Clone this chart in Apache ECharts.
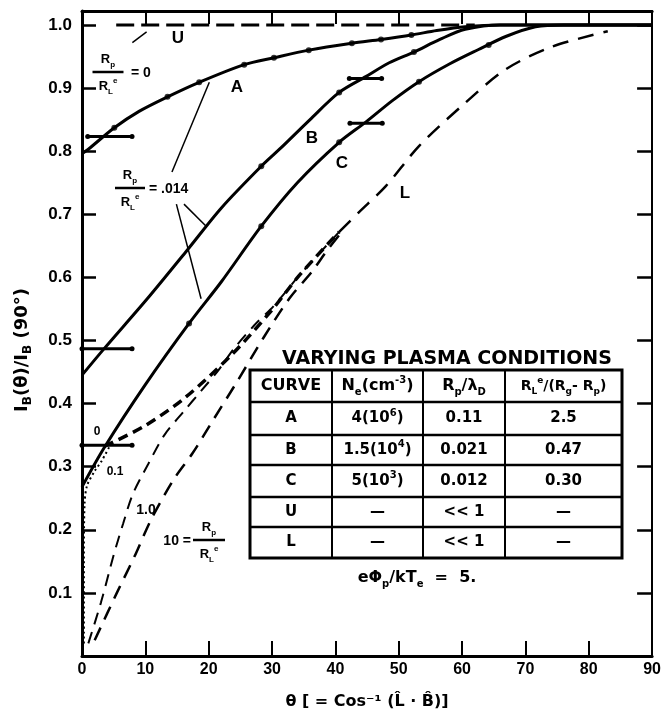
<!DOCTYPE html>
<html>
<head>
<meta charset="utf-8">
<script src="https://cdn.jsdelivr.net/npm/echarts@6/dist/echarts.min.js"></script>
<style>
html, body { margin: 0; padding: 0; background: #fff; }
#main { width: 664px; height: 715px; }
</style>
</head>
<body>
<div id="main"></div>
<script>
// axis ticks
var xTicks = [0, 10, 20, 30, 40, 50, 60, 70, 80, 90];
var yTicks = [0.1, 0.2, 0.3, 0.4, 0.5, 0.6, 0.7, 0.8, 0.9, 1.0];

// main curves, [theta, IB ratio]
var curveA = [[0, 0.796], [1, 0.803], [5.1, 0.837], [9, 0.863], [13.5, 0.886], [18.5, 0.909], [25.6, 0.937],
  [30.3, 0.948], [35.8, 0.96], [42.6, 0.971], [47.2, 0.977], [52, 0.984], [56, 0.991], [60.5, 0.997], [66, 1.0], [90, 1.0]];
var curveB = [[0, 0.445], [3.5, 0.487], [10.3, 0.566], [16.6, 0.643], [22, 0.71], [28.3, 0.776], [31.4, 0.805],
  [36, 0.85], [40.6, 0.893], [44.8, 0.918], [48.5, 0.94], [52.4, 0.957], [56.5, 0.977], [60.5, 0.993], [66, 1.0], [90, 1.0]];
var curveC = [[0, 0.268], [3.5, 0.33], [10, 0.43], [16.9, 0.527], [22, 0.593], [28.3, 0.681], [34, 0.75],
  [40.6, 0.814], [44.8, 0.846], [49, 0.88], [53.2, 0.91], [58, 0.938], [62.6, 0.961], [67, 0.982], [71.6, 0.997], [76, 1.0], [90, 1.0]];
var curveU = [[5.4, 1.0], [62, 1.0]];
var curveL = [[40.6, 0.672], [43.7, 0.703], [48, 0.745], [53.2, 0.808], [59.9, 0.871], [66.8, 0.929], [74.1, 0.965], [83, 0.99]];

// Rp/RL family near small angles
var rp0 = [[3.5, 0.332], [9.8, 0.364], [16.1, 0.408], [23.5, 0.476], [29.8, 0.546], [34.3, 0.603], [40.6, 0.672]];
var rp01 = [[0.3, 0.02], [0.3, 0.15], [0.4, 0.24], [0.8, 0.27], [2, 0.293], [3.1, 0.309], [4.5, 0.335]];
var rp1 = [[1, 0.02], [3, 0.085], [5, 0.16], [6.5, 0.21], [8, 0.256], [10.5, 0.305], [13, 0.35], [16.1, 0.388],
  [18.8, 0.42], [21.4, 0.451], [24, 0.487], [27.2, 0.524], [30.3, 0.555], [34.3, 0.603], [40.6, 0.672]];
var rp10 = [[2, 0.025], [5.5, 0.1], [8.3, 0.158], [11, 0.218], [14.5, 0.28], [17.5, 0.322], [20.9, 0.377],
  [24.5, 0.435], [28.7, 0.505], [32.7, 0.566], [36.3, 0.609], [38.5, 0.64], [41, 0.672]];

// measured points on the curves
var dotsA = [[5.1, 0.837], [13.5, 0.886], [18.5, 0.909], [25.6, 0.937], [30.3, 0.948], [35.8, 0.96], [42.6, 0.971], [47.2, 0.977], [52, 0.984]];
var dotsB = [[28.3, 0.776], [40.6, 0.893], [52.4, 0.957]];
var dotsC = [[16.9, 0.527], [28.3, 0.681], [40.6, 0.814], [53.2, 0.91], [64.2, 0.968]];

// error bars: [x1, x2, y]
var errBars = [[0.9, 7.9, 0.823], [0, 7.9, 0.487], [0, 7.9, 0.334], [42.2, 47.3, 0.915], [42.3, 47.4, 0.844]];

// pointer lines from annotations: [x1, y1, x2, y2]
var pointers = [[14.2, 0.767, 20.1, 0.909], [14.9, 0.716, 18.8, 0.566], [16.1, 0.716, 19.6, 0.681], [7.95, 0.972, 10.2, 0.989]];

// table
var tableTitle = 'VARYING PLASMA CONDITIONS';
var tableHead = ['CURVE', '{m|N}{sb|e}{m|(cm}{sp|-3}{m|)}', '{m|R}{sb|p}{m|/λ}{sb|D}', '{m|R}{sb|L}{sp|e}{m|/(R}{sb|g}{m|- R}{sb|p}{m|)}'];
var tableCurve = ['A', 'B', 'C', 'U', 'L'];
var tableNe = ['{m|4(10}{sp|6}{m|)}', '{m|1.5(10}{sp|4}{m|)}', '{m|5(10}{sp|3}{m|)}', '—', '—'];
var tableRpLd = ['0.11', '0.021', '0.012', '<< 1', '<< 1'];
var tableRl = ['2.5', '0.47', '0.30', '—', '—'];
var tableNote = '{m|eΦ}{sb|p}{m|/kT}{sb|e}{m|  =  5.}';

var FONT = 'Liberation Sans';
var WIDE = 'DejaVu Sans';

function rich(size, fam) {
  var s = Math.round(size * 0.65);
  return {
    m: { fontSize: size, fontWeight: 'bold', fontFamily: fam, lineHeight: size + 6, color: '#000' },
    sb: { fontSize: s, fontWeight: 'bold', fontFamily: fam, lineHeight: s, verticalAlign: 'bottom', color: '#000' },
    sp: { fontSize: s, fontWeight: 'bold', fontFamily: fam, lineHeight: s, verticalAlign: 'top', color: '#000' }
  };
}

function txt(str, x, y, size, align, rot, fam) {
  fam = fam || FONT;
  return {
    type: 'text', x: x, y: y, rotation: rot || 0, silent: true,
    style: {
      text: str, rich: rich(size, fam), fontSize: size, fontWeight: 'bold', fontFamily: fam,
      fill: '#000', align: align || 'center', verticalAlign: 'middle'
    }
  };
}

function seg(x1, y1, x2, y2, w) {
  return { type: 'line', silent: true, shape: { x1: x1, y1: y1, x2: x2, y2: y2 }, style: { stroke: '#000', lineWidth: w } };
}

function fraction(cx, cy, w, size) {
  return [
    txt('{m|R}{sb|p}', cx, cy - 13, size),
    seg(cx - w / 2, cy, cx + w / 2, cy, 2.5),
    txt('{m|R}{sb|L}{sp|e}', cx, cy + 14, size)
  ];
}

// graphic annotations
var g = [];
g = g.concat(fraction(108, 72, 31, 13));
g.push(txt('= 0', 131, 73, 14, 'left'));
g = g.concat(fraction(130, 188, 30, 13));
g.push(txt('= .014', 149, 189, 14, 'left'));
g = g.concat(fraction(209, 540, 32, 13));
g.push(txt('10 =', 191, 541, 14, 'right'));
g.push(txt('A', 237, 87, 17));
g.push(txt('B', 312, 138, 17));
g.push(txt('C', 342, 163, 17));
g.push(txt('U', 178, 38, 17));
g.push(txt('L', 405, 193, 17));
g.push(txt('0', 97, 432, 12));
g.push(txt('0.1', 115, 472, 12));
g.push(txt('1.0', 146, 510, 14));

// y axis name
g.push(txt('{m|I}{sb|B}{m|(θ)/I}{sb|B}{m| (90°)}', 22, 350, 18, 'center', Math.PI / 2, WIDE));

// table
var colX = [250, 332, 423, 505, 622];
var rowY = [370, 402, 435, 465, 497, 527, 558];
g.push(txt(tableTitle, 447, 359, 19, 'center', 0, WIDE));
g.push({ type: 'rect', silent: true, shape: { x: colX[0], y: rowY[0], width: colX[4] - colX[0], height: rowY[6] - rowY[0] },
  style: { fill: '#fff', stroke: '#000', lineWidth: 3 } });
for (var i = 1; i < colX.length - 1; i++) g.push(seg(colX[i], rowY[0], colX[i], rowY[6], 2));
for (var j = 1; j < rowY.length - 1; j++) g.push(seg(colX[0], rowY[j], colX[4], rowY[j], 2.5));
var cols = [tableCurve, tableNe, tableRpLd, tableRl];
for (var c = 0; c < 4; c++) {
  var cx = (colX[c] + colX[c + 1]) / 2;
  g.push(txt(tableHead[c], cx, (rowY[0] + rowY[1]) / 2, c === 3 ? 14 : 16, 'center', 0, WIDE));
  for (var r = 0; r < 5; r++) {
    g.push(txt(cols[c][r], cx, (rowY[r + 1] + rowY[r + 2]) / 2, 15, 'center', 0, WIDE));
  }
}
g.push(txt(tableNote, 417, 578, 16, 'center', 0, WIDE));

// series
var series = [];
function curve(data, width, type, smooth) {
  series.push({
    type: 'line', data: data, showSymbol: false, smooth: smooth, silent: true,
    lineStyle: { color: '#000', width: width, type: type }
  });
}
curve(curveA, 3, 'solid', 0.3);
curve(curveB, 3, 'solid', 0.3);
curve(curveC, 3, 'solid', 0.3);
curve(curveU, 3, [18, 7], false);
curve(curveL, 2.5, [16, 10], 0.3);
curve(rp0, 3.5, [10, 6], 0.3);
curve(rp01, 2, [2, 3], 0.3);
curve(rp1, 2, [12, 8], 0.3);
curve(rp10, 2.5, [14, 9], 0.3);

[dotsA, dotsB, dotsC].forEach(function (d) {
  series.push({ type: 'scatter', data: d, symbol: 'circle', symbolSize: 6, silent: true, itemStyle: { color: '#000' } });
});
errBars.forEach(function (b) {
  series.push({
    type: 'line', data: [[b[0], b[2]], [b[1], b[2]]], symbol: 'circle', symbolSize: 5, showSymbol: true, silent: true,
    itemStyle: { color: '#000' }, lineStyle: { color: '#000', width: 3 }
  });
});
pointers.forEach(function (p) {
  series.push({
    type: 'line', data: [[p[0], p[1]], [p[2], p[3]]], showSymbol: false, silent: true,
    lineStyle: { color: '#000', width: 1.5 }
  });
});

var axisFont = { color: '#000', fontFamily: FONT, fontWeight: 'bold' };

var option = {
  backgroundColor: '#fff',
  animation: false,
  grid: { left: 82, right: 9, top: 11, bottom: 56 },
  xAxis: [{
    type: 'value', min: 0, max: 90, interval: 10, position: 'bottom',
    name: 'θ [ = Cos⁻¹ (L̂ · B̂)]', nameLocation: 'middle', nameGap: 38,
    nameTextStyle: { color: '#000', fontFamily: WIDE, fontWeight: 'bold', fontSize: 16 },
    axisLine: { show: true, onZero: false, lineStyle: { color: '#000', width: 3 } },
    axisTick: { show: true, inside: true, length: 15, lineStyle: { color: '#000', width: 2 }, customValues: xTicks.slice(1, 9) },
    axisLabel: Object.assign({ fontSize: 16, margin: 6, customValues: xTicks }, axisFont),
    splitLine: { show: false }
  }, {
    type: 'value', min: 0, max: 90, interval: 10, position: 'top',
    axisLine: { show: true, onZero: false, lineStyle: { color: '#000', width: 3 } },
    axisTick: { show: true, inside: true, length: 13, lineStyle: { color: '#000', width: 2 }, customValues: xTicks.slice(1, 9) },
    axisLabel: { show: false },
    splitLine: { show: false }
  }],
  yAxis: [{
    type: 'value', min: 0, max: 1.022, position: 'left',
    axisLine: { show: true, onZero: false, lineStyle: { color: '#000', width: 3 } },
    axisTick: { show: true, inside: true, length: 14, lineStyle: { color: '#000', width: 2.5 }, customValues: yTicks },
    axisLabel: Object.assign({ fontSize: 17, margin: 10, customValues: yTicks, formatter: function (v) { return v.toFixed(1); } }, axisFont),
    splitLine: { show: false }
  }, {
    type: 'value', min: 0, max: 1.022, position: 'right',
    axisLine: { show: true, onZero: false, lineStyle: { color: '#000', width: 2 } },
    axisTick: { show: true, inside: true, length: 15, lineStyle: { color: '#000', width: 2.5 }, customValues: yTicks },
    axisLabel: { show: false },
    splitLine: { show: false }
  }],
  graphic: { elements: g },
  series: series
};

var chart = echarts.init(document.getElementById('main'));
chart.setOption(option);
</script>
</body>
</html>
